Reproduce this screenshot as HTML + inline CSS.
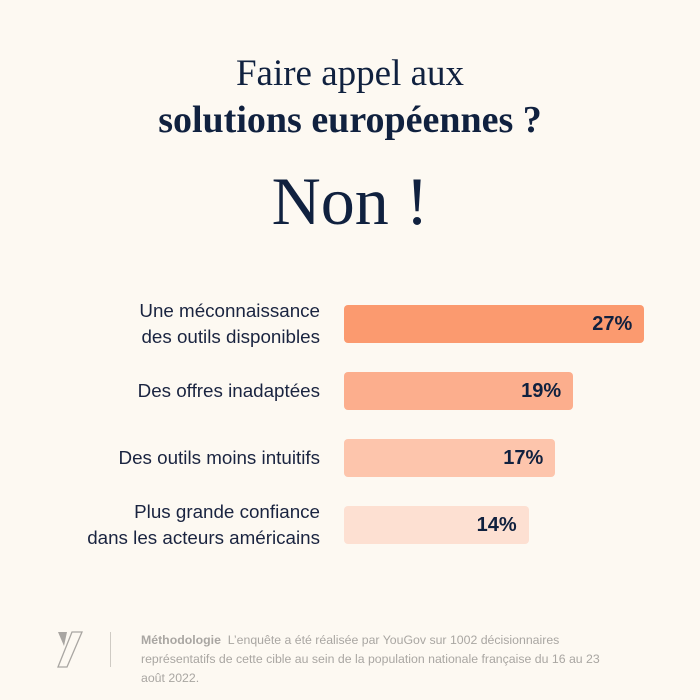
<!DOCTYPE html>
<html><head><meta charset="utf-8"><style>
body{margin:0;width:700px;height:700px;background:#fdf9f2;font-family:"Liberation Sans",sans-serif;color:#10213f;position:relative;overflow:hidden}
.t{position:absolute;left:0;width:700px;text-align:center;font-family:"Liberation Serif",serif}
.lab{position:absolute;right:380px;text-align:right;font-size:18.8px;line-height:26px;color:#1a2440;white-space:nowrap}
.bar{position:absolute;left:344px;height:38px;border-radius:4px}
.val{position:absolute;font-size:20px;font-weight:bold;line-height:38px;color:#10213f}
</style></head><body>
<div class="t" style="top:52px;font-size:37px">Faire appel aux</div>
<div class="t" style="top:98px;font-size:38px;font-weight:bold">solutions européennes ?</div>
<div class="t" style="top:162px;font-size:68px">Non !</div>
<div id="chart"></div>
<svg style="position:absolute;left:55px;top:630px" width="35" height="40"><polygon points="3,2 12,2 9,16" fill="#a9a6a2"/><polygon points="17,2 27,2 12,37 3,37" fill="none" stroke="#a9a6a2" stroke-width="1.3"/></svg>
<div style="position:absolute;left:110px;top:632px;width:1px;height:35px;background:#cfcbc4"></div>
<div style="position:absolute;left:141px;top:631px;width:480px;font-size:12.3px;line-height:19px;color:#a9a6a2"><b>Méthodologie</b>&nbsp; L’enquête a été réalisée par YouGov sur 1002 décisionnaires<br>représentatifs de cette cible au sein de la population nationale française du 16 au 23<br>août 2022.</div>
<script>
const categories=["Une méconnaissance<br>des outils disponibles","Des offres inadaptées","Des outils moins intuitifs","Plus grande confiance<br>dans les acteurs américains"];
const values=[27,19,17,14];
const colors=["#fb9a6f","#fcae8d","#fdc5ac","#fde0d2"];
function xw(v){return 60+8.9*v;}
function yTop(i){return 305+67*i;}
const c=document.getElementById('chart');
values.forEach((v,i)=>{
 const b=document.createElement('div');b.className='bar';
 
 
 b.style.top=yTop(i)+'px';b.style.width=xw(v)+'px';b.style.background=colors[i];c.appendChild(b);
 const t=document.createElement('div');t.className='val';
 
 
 t.textContent=v+'%';t.style.top=yTop(i)+'px';t.style.right=(700-344-xw(v)+12)+'px';c.appendChild(t);
 const l=document.createElement('div');l.className='lab';
 
 
 l.innerHTML=categories[i];const two=categories[i].includes('<br>');
 l.style.top=(yTop(i)+19-(two?26:13))+'px';c.appendChild(l);
});
</script>
</body></html>
